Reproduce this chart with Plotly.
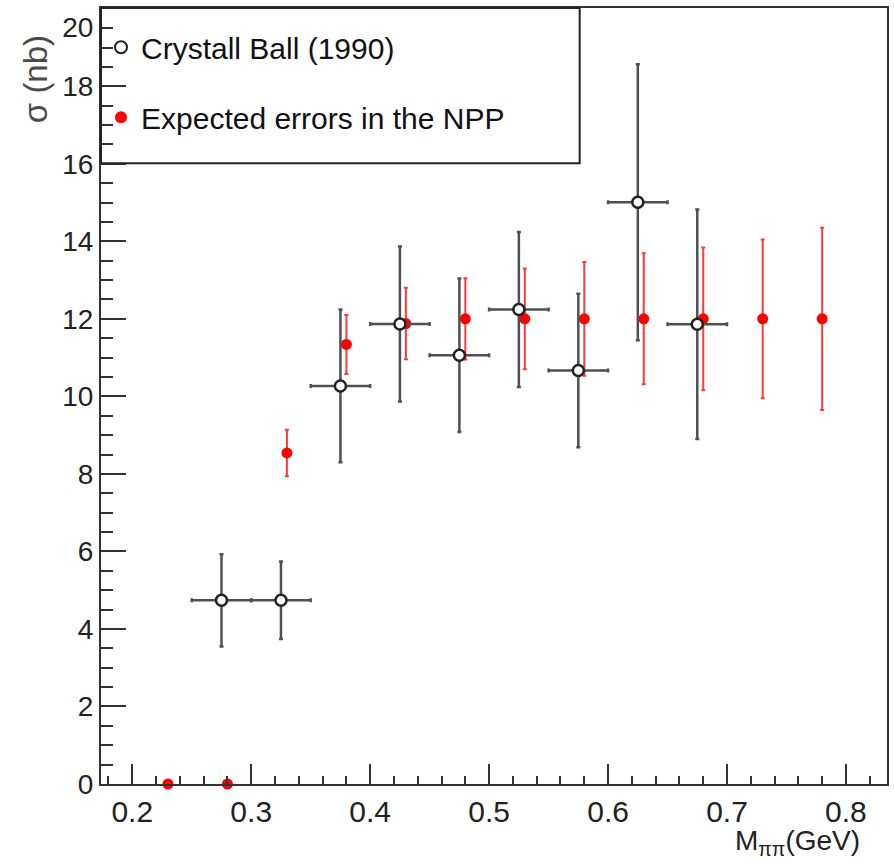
import plotly.graph_objects as go

# Crystall Ball (1990) data
cb_x = [0.275, 0.325, 0.375, 0.425, 0.475, 0.525, 0.575, 0.625, 0.675]
cb_y = [4.74, 4.74, 10.27, 11.87, 11.06, 12.24, 10.67, 15.01, 11.86]
cb_err = [1.19, 1.0, 1.97, 2.0, 1.98, 2.0, 1.98, 3.56, 2.96]
cb_xerr = [0.025] * len(cb_x)

# Expected errors in the NPP
npp_x = [0.23, 0.28, 0.33, 0.38, 0.43, 0.48, 0.53, 0.58, 0.63, 0.68, 0.73, 0.78]
npp_y = [0, 0, 8.54, 11.34, 11.88, 12, 12, 12, 12, 12, 12, 12]
npp_err = [0, 0, 0.6, 0.76, 0.92, 1.05, 1.3, 1.47, 1.69, 1.84, 2.05, 2.35]

x_ticks = [0.2, 0.3, 0.4, 0.5, 0.6, 0.7, 0.8]
y_ticks = [0, 2, 4, 6, 8, 10, 12, 14, 16, 18, 20]
# top label is pushed below the frame edge, as in the original
y_ticktext = [str(v) for v in y_ticks[:-1]] + ["<br>" + str(y_ticks[-1])]

FONT = "Liberation Sans, Arial, sans-serif"

fig = go.Figure()

fig.add_trace(go.Scatter(
    x=npp_x, y=npp_y, mode="markers", name="Expected errors in the NPP",
    legendgroup="b", legendrank=2,
    marker=dict(color="#ff0000", size=11, line=dict(width=0)),
    error_y=dict(type="data", array=npp_err, visible=True, color="#ff3a3a",
                 thickness=2, width=2),
    cliponaxis=False,
))

fig.add_trace(go.Scatter(
    x=cb_x, y=cb_y, mode="markers", name="Crystall Ball (1990)",
    legendgroup="a", legendrank=1,
    marker=dict(color="white", size=11, symbol="circle",
                line=dict(color="#222222", width=2.5)),
    error_y=dict(type="data", array=cb_err, visible=True, color="#505050",
                 thickness=2.5, width=2),
    error_x=dict(type="data", array=cb_xerr, visible=True, color="#505050",
                 thickness=2.5, width=2),
    cliponaxis=False,
))

# legend frame
fig.add_shape(type="rect", xref="paper", yref="paper",
              x0=0, x1=0.609, y0=0.800, y1=1.0,
              line=dict(color="#222222", width=2), fillcolor="rgba(0,0,0,0)")

fig.update_layout(
    width=894, height=861,
    margin=dict(l=101, r=7, t=8, b=77, autoexpand=False),
    paper_bgcolor="white", plot_bgcolor="white",
    font=dict(family=FONT, color="#222222", size=28),
    showlegend=True,
    legend=dict(x=0.0, y=0.983, xanchor="left", yanchor="top",
                bgcolor="rgba(0,0,0,0)", borderwidth=0,
                font=dict(size=30, family=FONT, color="#111111"),
                tracegroupgap=28, itemsizing="constant"),
    xaxis=dict(range=[0.1737, 0.8345], tickvals=x_ticks,
               ticktext=[str(v) for v in x_ticks], automargin=False,
               ticks="inside", ticklen=20, tickwidth=2, tickcolor="#333333",
               showline=True, linecolor="#333333", linewidth=2, mirror=True,
               showgrid=False, zeroline=False, ticklabeloverflow="allow",
               minor=dict(ticks="inside", ticklen=8, tickwidth=2,
                          tickcolor="#333333", dtick=0.02, tick0=0, showgrid=False),
               tickfont=dict(size=30, family=FONT, color="#222222")),
    yaxis=dict(range=[0, 20.02], tickvals=y_ticks,
               ticktext=y_ticktext, automargin=False,
               ticks="inside", ticklen=25, tickwidth=2, tickcolor="#333333",
               showline=True, linecolor="#333333", linewidth=2, mirror=True,
               showgrid=False, zeroline=False, ticklabeloverflow="allow",
               minor=dict(ticks="inside", ticklen=12, tickwidth=2,
                          tickcolor="#333333", dtick=0.5, tick0=0, showgrid=False),
               tickfont=dict(size=28, family=FONT, color="#222222")),
    annotations=[
        dict(text="M<sub>ππ</sub>(GeV)", xref="paper", yref="paper",
             x=0.968, y=-0.075, xanchor="right", yanchor="middle",
             showarrow=False, font=dict(size=28, family=FONT, color="#222222")),
        dict(text="σ (nb)", xref="paper", yref="paper",
             x=-0.083, y=0.908, xanchor="center", yanchor="middle",
             textangle=-90, showarrow=False,
             font=dict(size=33, family=FONT, color="#4a4a4a")),
    ],
)

fig.write_html("out.html", config={"displayModeBar": False},
               post_script="document.body.style.margin='0';")
